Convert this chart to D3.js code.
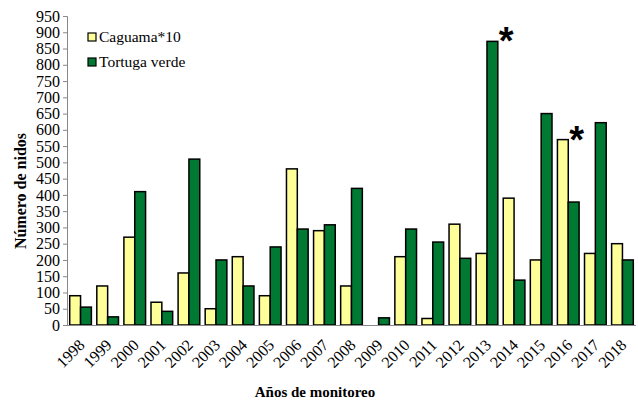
<!DOCTYPE html>
<html>
<head>
<meta charset="utf-8">
<script src="https://cdn.jsdelivr.net/npm/d3@7"></script>
<style>
  body { margin: 0; background: #fff; }
  text { font-family: "Liberation Serif", "Times New Roman", serif; }
</style>
</head>
<body>
<div class="chart"></div>
<script>
// años y series (Caguama ya multiplicada por 10)
const years = ['1998','1999','2000','2001','2002','2003','2004','2005','2006','2007','2008',
  '2009','2010','2011','2012','2013','2014','2015','2016','2017','2018'];
const caguama = [90,120,270,70,160,50,210,90,480,290,120,0,210,20,310,220,390,200,570,220,250];
const tortuga = [55,25,410,42,510,200,120,240,295,308,420,22,295,255,205,872,138,650,378,622,200];
const yTicks = d3.range(0, 951, 50);
// asteriscos: [año, serie]
const marks = [['2013','Tortuga verde'], ['2016','Caguama*10']];

const series = [
  { name: 'Caguama*10', color: '#ffff99', values: caguama },
  { name: 'Tortuga verde', color: '#007a33', values: tortuga }
];

const width = 638, height = 403;
const margin = { top: 16, right: 2, bottom: 78, left: 67 };
const w = width - margin.left - margin.right;
const h = height - margin.top - margin.bottom;

const svg = d3.select('.chart').append('svg')
  .attr('width', width).attr('height', height);
const g = svg.append('g').attr('transform', `translate(${margin.left},${margin.top})`);

const x0 = d3.scaleBand().domain(years).range([0, w]).paddingInner(0.2).paddingOuter(0.1);
const x1 = d3.scaleBand().domain(series.map(d => d.name)).range([0, x0.bandwidth()]);
const y = d3.scaleLinear().domain([0, 950]).range([h, 0]);

// barras
const grp = g.selectAll('.year').data(years).enter().append('g')
  .attr('transform', d => `translate(${x0(d)},0)`);
grp.selectAll('rect').data((d, i) => series.map(s => ({ name: s.name, color: s.color, v: s.values[i] })))
  .enter().append('rect')
  .filter(d => d.v > 0)
  .attr('x', d => x1(d.name))
  .attr('width', x1.bandwidth())
  .attr('y', d => y(d.v))
  .attr('height', d => y(0) - y(d.v))
  .attr('fill', d => d.color)
  .attr('stroke', '#000').attr('stroke-width', 1.5);

// eje Y
const yAxis = g.append('g').call(d3.axisLeft(y).tickValues(yTicks).tickSize(4).tickPadding(3));
yAxis.attr('font-family', null);
yAxis.selectAll('path,line').attr('stroke', '#888');
yAxis.selectAll('text').style('font-size', '16px').attr('fill', '#000')
  .style('font-family', '"Liberation Serif", serif');

// eje X
const xAxis = g.append('g').attr('transform', `translate(0,${h})`)
  .call(d3.axisBottom(x0).tickSize(0).tickPadding(8));
xAxis.attr('font-family', null);
xAxis.select('.domain').attr('stroke', '#888').attr('d', `M${-0.5},0.5H${w}`);
xAxis.selectAll('text').style('font-size', '16px').attr('fill', '#000')
  .style('font-family', '"Liberation Serif", serif')
  .attr('text-anchor', 'end')
  .attr('dy', '0.3em')
  .attr('transform', 'translate(-4,12) rotate(-45)');

// asteriscos
g.selectAll('.star').data(marks).enter().append('text')
  .attr('x', d => x0(d[0]) + x1(d[1]) + x1.bandwidth() + 1)
  .attr('y', d => y(series.find(s => s.name === d[1]).values[years.indexOf(d[0])]) + 13)
  .text('*')
  .style('font-size', '38px').style('font-weight', 'bold')
  .style('font-family', '"Liberation Sans", Arial, sans-serif');

// títulos
svg.append('text').attr('x', 315).attr('y', 397).attr('text-anchor', 'middle')
  .style('font-size', '15px').style('font-weight', 'bold').text('Años de monitoreo');
svg.append('text').attr('transform', 'translate(26,191) rotate(-90)')
  .attr('text-anchor', 'middle')
  .style('font-size', '16px').style('font-weight', 'bold').text('Número de nidos');

// leyenda
const legend = svg.append('g').attr('transform', 'translate(88,33)');
const li = legend.selectAll('g').data(series).enter().append('g')
  .attr('transform', (d, i) => `translate(0,${i * 25})`);
li.append('rect').attr('width', 8).attr('height', 8)
  .attr('fill', d => d.color).attr('stroke', '#000').attr('stroke-width', 1.2);
li.append('text').attr('x', 11).attr('y', 9).text(d => d.name).style('font-size', '15.5px');
</script>
</body>
</html>
